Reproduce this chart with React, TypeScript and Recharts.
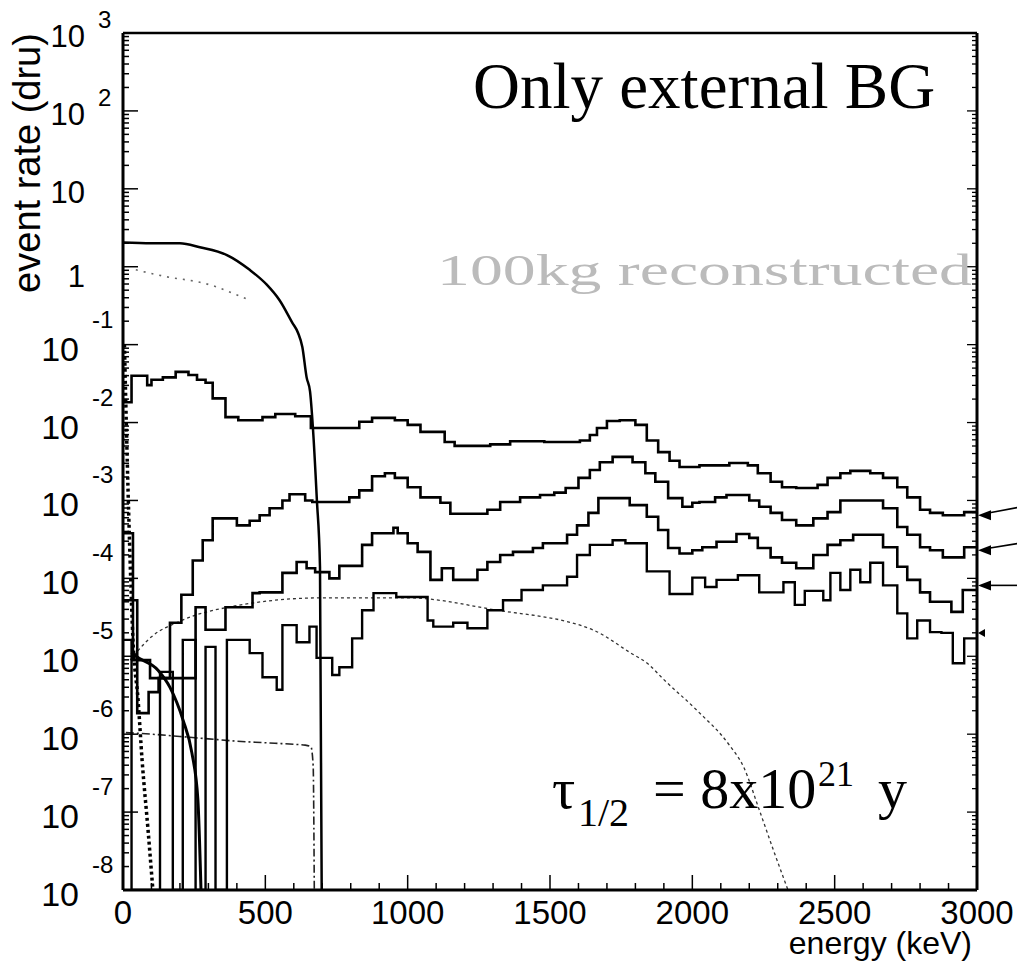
import React from "react";
import { ComposedChart, Line, XAxis, YAxis, ReferenceDot } from "recharts";

// all rates are stored as log10(event rate / dru)
// histogram bins: left edges in keV, last entry closes the range at 3000

const h1Edges = [0, 30, 85, 100, 140, 185, 230, 260, 290, 315, 360, 405, 490, 535, 605, 660, 830, 875, 955, 1000, 1045, 1130, 1165, 1290, 1360, 1480, 1605, 1640, 1665, 1700, 1745, 1800, 1840, 1880, 1920, 1955, 2025, 2130, 2195, 2230, 2275, 2315, 2365, 2440, 2475, 2520, 2555, 2625, 2670, 2720, 2755, 2800, 2835, 2880, 2955, 3000];
const h1Exp = [-1.74, -1.4, -1.52, -1.45, -1.42, -1.35, -1.39, -1.45, -1.49, -1.69, -1.93, -1.97, -1.93, -1.89, -1.92, -2.07, -1.99, -1.94, -1.97, -2.03, -2.12, -2.25, -2.3, -2.28, -2.24, -2.25, -2.23, -2.16, -2.07, -1.98, -1.97, -2.03, -2.23, -2.38, -2.49, -2.57, -2.55, -2.52, -2.55, -2.65, -2.76, -2.83, -2.84, -2.8, -2.71, -2.65, -2.62, -2.65, -2.71, -2.83, -2.96, -3.12, -3.16, -3.19, -3.15, -3.15];

const h2Edges = [0, 35, 95, 165, 205, 245, 280, 315, 400, 445, 480, 515, 560, 585, 640, 665, 795, 830, 875, 920, 955, 1000, 1045, 1115, 1150, 1280, 1325, 1395, 1465, 1515, 1555, 1600, 1640, 1675, 1720, 1790, 1835, 1870, 1915, 1965, 2000, 2025, 2080, 2120, 2200, 2235, 2275, 2315, 2365, 2425, 2475, 2520, 2670, 2720, 2755, 2800, 2835, 2880, 2955, 3000];
const h2Exp = [-3.42, -5.05, -5.28, -4.57, -4.21, -3.77, -3.51, -3.23, -3.32, -3.26, -3.19, -3.1, -3.0, -2.92, -3.0, -3.02, -2.96, -2.87, -2.69, -2.65, -2.71, -2.83, -2.96, -3.03, -3.17, -3.12, -3.02, -2.96, -2.93, -2.9, -2.84, -2.71, -2.61, -2.51, -2.44, -2.51, -2.65, -2.76, -2.97, -3.08, -3.03, -3.02, -2.96, -2.93, -3.0, -3.08, -3.16, -3.25, -3.32, -3.23, -3.15, -3.0, -3.1, -3.34, -3.44, -3.6, -3.64, -3.73, -3.6, -3.6];

const h3Edges = [0, 50, 90, 125, 255, 290, 360, 455, 480, 560, 610, 645, 675, 725, 760, 840, 875, 950, 965, 1000, 1035, 1080, 1120, 1160, 1245, 1280, 1325, 1370, 1440, 1475, 1560, 1595, 1635, 1670, 1780, 1840, 1880, 1915, 1955, 2000, 2035, 2085, 2155, 2200, 2230, 2275, 2315, 2365, 2425, 2475, 2520, 2565, 2670, 2720, 2755, 2800, 2835, 2910, 2950, 3000];
const h3Exp = [-4.28, -5.73, -5.46, -5.28, -4.37, -4.66, -4.37, -4.19, -4.18, -3.93, -3.79, -3.87, -3.92, -4.0, -3.84, -3.57, -3.42, -3.35, -3.42, -3.55, -3.66, -4.02, -3.87, -4.02, -3.89, -3.79, -3.7, -3.66, -3.61, -3.55, -3.44, -3.32, -3.16, -2.97, -3.06, -3.21, -3.38, -3.61, -3.68, -3.64, -3.6, -3.53, -3.43, -3.48, -3.61, -3.73, -3.8, -3.87, -3.7, -3.57, -3.51, -3.44, -3.6, -3.85, -4.02, -4.18, -4.3, -4.43, -4.15, -4.15];

// lowest histogram, empty bins sit on the 1e-8 floor
const h4Edges = [0, 30, 130, 175, 210, 255, 290, 325, 365, 445, 490, 540, 560, 610, 655, 680, 735, 760, 805, 840, 880, 960, 1070, 1090, 1160, 1210, 1280, 1335, 1400, 1475, 1560, 1595, 1640, 1720, 1765, 1840, 1920, 2000, 2045, 2085, 2160, 2235, 2320, 2360, 2395, 2460, 2485, 2520, 2555, 2590, 2625, 2670, 2720, 2755, 2790, 2835, 2875, 2915, 2955, 3000];
const h4Exp = [-4.79, -8, -5.2, -8, -4.79, -8, -4.88, -8, -4.79, -4.96, -5.27, -5.43, -4.6, -4.82, -4.62, -5.02, -5.24, -5.14, -4.77, -4.41, -4.19, -4.24, -4.54, -4.62, -4.57, -4.64, -4.41, -4.28, -4.15, -4.09, -3.98, -3.7, -3.57, -3.51, -3.55, -3.91, -4.2, -3.99, -4.11, -4.02, -3.96, -4.18, -4.05, -4.34, -4.16, -4.28, -3.93, -4.15, -3.89, -4.05, -3.8, -4.09, -4.45, -4.77, -4.54, -4.69, -4.7, -5.09, -4.77, -4.77];

// smooth spectra
const c1E = [0, 100, 200, 270, 365, 445, 505, 550, 595, 615, 630, 645, 657, 667, 681, 692, 698];
const c1Exp = [0.31, 0.3, 0.3, 0.25, 0.15, -0.04, -0.23, -0.43, -0.72, -0.85, -1.03, -1.42, -1.6, -2.06, -2.99, -3.85, -8];

const c2E = [45, 155, 270, 330, 385, 445];
const c2Exp = [-0.04, -0.13, -0.2, -0.26, -0.34, -0.43];

const c3E = [25, 100, 200, 400, 700, 1000, 1300, 1650, 1780, 1845, 1900, 2015, 2130, 2180, 2235, 2285, 2336];
const c3Exp = [-5.05, -4.75, -4.55, -4.35, -4.25, -4.25, -4.4, -4.66, -4.95, -5.1, -5.3, -5.69, -6.14, -6.42, -6.97, -7.49, -8];

const c4E = [10, 100, 200, 300, 400, 500, 600, 640, 660, 668, 672];
const c4Exp = [-5.98, -6.0, -6.03, -6.06, -6.09, -6.11, -6.13, -6.14, -6.16, -6.4, -8];

const c5E = [30, 42, 123, 165, 211, 242, 263, 274];
const c5Exp = [-4.95, -4.99, -5.18, -5.4, -5.82, -6.24, -6.84, -8];

const c6E = [5, 15, 25, 35, 53, 67, 88, 105];
const c6Exp = [-1.0, -2.5, -3.77, -4.79, -5.56, -6.33, -7.23, -8];

// arrows on the right frame, at the end level of each histogram
const arrowExp = [-3.19, -3.64, -4.09, -4.7];

const xMajor = [0, 500, 1000, 1500, 2000, 2500, 3000];
const yMajorExp = [-8, -7, -6, -5, -4, -3, -2, -1, 0, 1, 2, 3];

const W = 1017;
const H = 965;
const SANS = "Liberation Sans, Arial, Helvetica, sans-serif";
const SERIF = "Liberation Serif, Times New Roman, serif";

const toPoints = (es: number[], lg: number[]) => es.map((e, i) => ({ e, v: 10 ** lg[i] }));

const xTicks: number[] = [];
for (let e = 0; e <= 3000; e += 100) xTicks.push(e);

const yTicks: number[] = [];
yMajorExp.forEach((k) => {
  yTicks.push(10 ** k);
  if (k < 3) [2, 3, 4, 5, 6, 7, 8, 9].forEach((m) => yTicks.push(m * 10 ** k));
});

const isMajorX = (v: number) => xMajor.includes(v);
const decade = (v: number) => {
  const lg = Math.log10(v);
  const k = Math.round(lg);
  return { k, major: Math.abs(lg - k) < 1e-6 };
};

const BottomTick = (props: any) => {
  const { x, y, payload } = props;
  const major = isMajorX(payload.value);
  return (
    <g>
      <line x1={x} x2={x} y1={y} y2={y - (major ? 15 : 7)} stroke="#000" strokeWidth={1.5} />
      {major && (
        <text x={x} y={y + 34} textAnchor="middle" fontFamily={SANS} fontSize={33} fill="#000">
          {payload.value}
        </text>
      )}
    </g>
  );
};

const TopTick = (props: any) => {
  const { x, y, payload } = props;
  const major = isMajorX(payload.value);
  return <line x1={x} x2={x} y1={y} y2={y + (major ? 10 : 5)} stroke="#000" strokeWidth={1.3} />;
};

const LeftTick = (props: any) => {
  const { x, y, payload } = props;
  const { k, major } = decade(payload.value);
  let label = null;
  if (major) {
    if (k >= 1) {
      label = (
        <g fontFamily={SANS} fill="#000">
          <text x={x - 38} y={y + 14} textAnchor="end" fontSize={31}>10</text>
          {k >= 2 && <text x={x - 25} y={y - 5} fontSize={24}>{k}</text>}
        </g>
      );
    } else if (k === 0) {
      label = (
        <text x={x - 38} y={y + 20} textAnchor="end" fontFamily={SANS} fontSize={31} fill="#000">1</text>
      );
    } else {
      label = (
        <g fontFamily={SANS} fill="#000">
          <text x={x - 44} y={y + 16} textAnchor="end" fontSize={34}>10</text>
          <text x={x - 31} y={y - 17} fontSize={24}>{"-" + -k}</text>
        </g>
      );
    }
  }
  return (
    <g>
      <line x1={x} x2={x + (major ? 15 : 6)} y1={y} y2={y} stroke="#000" strokeWidth={1.5} />
      {label}
    </g>
  );
};

const RightTick = (props: any) => {
  const { x, y, payload } = props;
  const { major } = decade(payload.value);
  return <line x1={x} x2={x - (major ? 10 : 5)} y1={y} y2={y} stroke="#000" strokeWidth={1.3} />;
};

const arrowTail = [-8, -7, 0, null];

const Arrow = (props: any) => {
  const { cx, cy, idx } = props;
  const tail = arrowTail[idx];
  const big = tail !== null;
  const len = big ? 14 : 8;
  const half = big ? 5 : 4;
  return (
    <g>
      {big && (
        <line x1={cx + 10} y1={cy + (tail as number) * 0.25} x2={cx + 42} y2={cy + (tail as number)} stroke="#000" strokeWidth={1.6} />
      )}
      <polygon points={`${cx + 1},${cy} ${cx + len},${cy - half} ${cx + len},${cy + half}`} fill="#000" />
    </g>
  );
};

const hist = [
  { d: toPoints(h4Edges, h4Exp), w: 2.4 },
  { d: toPoints(h3Edges, h3Exp), w: 2.6 },
  { d: toPoints(h2Edges, h2Exp), w: 2.6 },
  { d: toPoints(h1Edges, h1Exp), w: 2.6 },
];

const curves = [
  { d: toPoints(c4E, c4Exp), stroke: "#222", w: 1.6, dash: "8 3 2 3" },
  { d: toPoints(c3E, c3Exp), stroke: "#333", w: 1.3, dash: "3 3" },
  { d: toPoints(c2E, c2Exp), stroke: "#666", w: 1.6, dash: "2 6" },
  { d: toPoints(c5E, c5Exp), stroke: "#000", w: 3, dash: undefined },
  { d: toPoints(c6E, c6Exp), stroke: "#000", w: 3.5, dash: "3 3" },
  { d: toPoints(c1E, c1Exp), stroke: "#000", w: 2.5, dash: undefined },
];

export default function App() {
  return (
    <div style={{ position: "relative", width: W, height: H, background: "#fff", overflow: "hidden" }}>
      <style>{"html,body{margin:0;padding:0;background:#fff;}"}</style>
      <ComposedChart width={W} height={H} margin={{ top: 32, right: 39, bottom: 0, left: 0 }}>
        <XAxis
          dataKey="e"
          type="number"
          domain={[0, 3000]}
          allowDataOverflow
          ticks={xTicks}
          interval={0}
          tickLine={false}
          tickSize={0}
          tickMargin={0}
          tick={BottomTick}
          axisLine={{ stroke: "#000", strokeWidth: 3 }}
          height={75}
        />
        <XAxis
          xAxisId="top"
          orientation="top"
          type="number"
          domain={[0, 3000]}
          allowDataOverflow
          ticks={xTicks}
          interval={0}
          tickLine={false}
          tickSize={0}
          tickMargin={0}
          tick={TopTick}
          axisLine={{ stroke: "#000", strokeWidth: 2.5 }}
          height={1}
        />
        <YAxis
          type="number"
          scale="log"
          domain={[1e-8, 1e3]}
          allowDataOverflow
          ticks={yTicks}
          interval={0}
          tickLine={false}
          tickSize={0}
          tickMargin={0}
          tick={LeftTick}
          axisLine={{ stroke: "#000", strokeWidth: 3 }}
          width={123}
        />
        <YAxis
          yAxisId="right"
          orientation="right"
          type="number"
          scale="log"
          domain={[1e-8, 1e3]}
          allowDataOverflow
          ticks={yTicks}
          interval={0}
          tickLine={false}
          tickSize={0}
          tickMargin={0}
          tick={RightTick}
          axisLine={{ stroke: "#000", strokeWidth: 3 }}
          width={1}
        />
        {curves.map((c, i) => (
          <Line
            key={"c" + i}
            data={c.d}
            dataKey="v"
            type="monotone"
            stroke={c.stroke}
            strokeWidth={c.w}
            strokeDasharray={c.dash}
            dot={false}
            activeDot={false}
            isAnimationActive={false}
          />
        ))}
        {hist.map((h, i) => (
          <Line
            key={"h" + i}
            data={h.d}
            dataKey="v"
            type="stepAfter"
            stroke="#000"
            strokeWidth={h.w}
            dot={false}
            activeDot={false}
            isAnimationActive={false}
          />
        ))}
        {arrowExp.map((a, i) => (
          <ReferenceDot
            key={"a" + i}
            x={3000}
            y={10 ** a}
            r={0}
            ifOverflow="visible"
            shape={(p: any) => <Arrow {...p} idx={i} />}
          />
        ))}
      </ComposedChart>
      <svg width={W} height={H} style={{ position: "absolute", left: 0, top: 0, pointerEvents: "none" }}>
        <text transform="translate(40,163) rotate(-90)" textAnchor="middle" fontFamily={SANS} fontSize={38} fill="#000">
          event rate (dru)
        </text>
        <text x={972} y={954} textAnchor="end" fontFamily={SANS} fontSize={32} fill="#000">
          energy (keV)
        </text>
        <text x={473} y={108} fontFamily={SERIF} fontSize={65} fill="#000">
          Only external BG
        </text>
        <text x={437} y={285} fontFamily={SERIF} fontSize={44} fill="#bbbbbb" textLength={535} lengthAdjust="spacingAndGlyphs">
          100kg reconstructed
        </text>
        <g fontFamily={SERIF} fill="#000">
          <text x={552} y={808} fontSize={58}>τ</text>
          <text x={578} y={826} fontSize={40}>1/2</text>
          <text x={653} y={808} fontSize={58}>= 8x10</text>
          <text x={818} y={786} fontSize={36}>21</text>
          <text x={878} y={808} fontSize={58}>y</text>
        </g>
      </svg>
    </div>
  );
}
